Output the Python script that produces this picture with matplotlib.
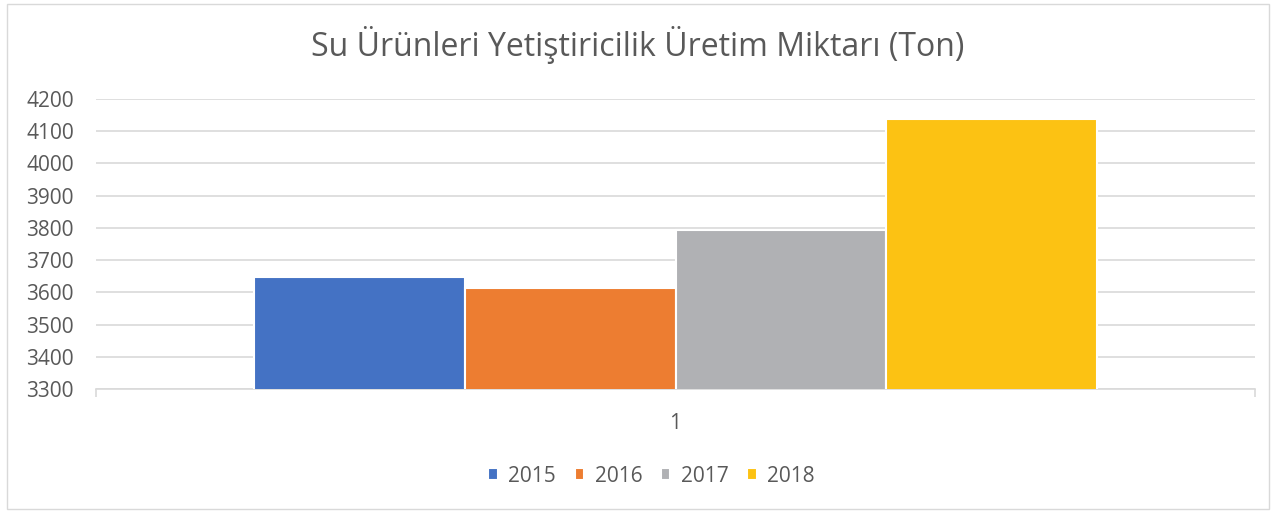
import numpy as np
import matplotlib.pyplot as plt
from matplotlib.patches import Rectangle

years = ['2015', '2016', '2017', '2018']
values = [3648, 3612, 3793, 4137]
colors = ['#4472C4', '#ED7D31', '#B0B1B4', '#FCC213']
category = ['1']
yticks = np.arange(3300, 4201, 100)

plt.rcParams['font.family'] = ['Open Sans', 'DejaVu Sans']
text_color = '#595959'
grid_color = '#D9D9D9'

fig = plt.figure(figsize=(12.75, 5.13), dpi=100)
ax = fig.add_axes([96 / 1275, 1 - 389 / 513, (1255 - 96) / 1275, (389 - 99) / 513])

pitch = 0.1818
for i, (year, val, col) in enumerate(zip(years, values, colors)):
    ax.bar((i - 1.5) * pitch, val, width=pitch, color=col, edgecolor='white',
           linewidth=1.5, label=year, zorder=3)

ax.set_xlim(-0.5, 0.5)
ax.set_ylim(3300, 4200)
ax.set_yticks(yticks)
ax.set_yticklabels([str(t) for t in yticks], color=text_color, fontsize=15)
ax.yaxis.grid(True, color=grid_color, linewidth=1.2, zorder=0)
ax.tick_params(axis='y', length=0, pad=16)

ax.set_xticks([-0.5, 0.5], minor=False)
ax.set_xticklabels(['', ''])
ax.tick_params(axis='x', length=6, color=grid_color, width=1.2)
ax.set_xticks([0], minor=True)
ax.set_xticklabels(category, minor=True, color=text_color, fontsize=15)
ax.tick_params(axis='x', which='minor', length=0, pad=17)

for side in ['top', 'right', 'left']:
    ax.spines[side].set_visible(False)
ax.spines['bottom'].set_color(grid_color)
ax.spines['bottom'].set_linewidth(1.2)

fig.text(0.5, 1 - 45 / 513, 'Su Ürünleri Yetiştiricilik Üretim Miktarı (Ton)',
         ha='center', va='center', fontsize=23, color=text_color)

fig.legend(loc='center', bbox_to_anchor=(0.511, 1 - 476 / 513), ncol=4, frameon=False,
           fontsize=15, labelcolor=text_color, handlelength=0.45, handleheight=0.45,
           handletextpad=0.5, columnspacing=0.9)

fig.patches.append(Rectangle((7 / 1275, 4 / 513), 1262 / 1275, 505 / 513,
                             transform=fig.transFigure, fill=False,
                             edgecolor='#D9D9D9', linewidth=1))

fig.savefig('out.png', dpi=100)
